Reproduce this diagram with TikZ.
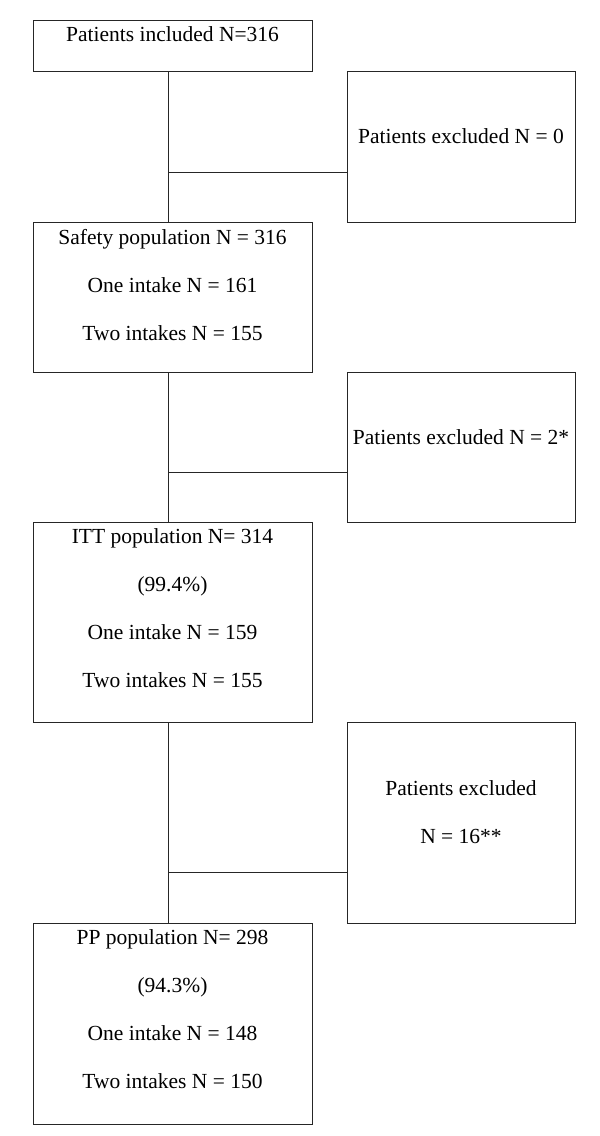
\documentclass[tikz,border=0pt]{standalone}
\usepackage{fontspec}
\setmainfont{Liberation Serif}
\usetikzlibrary{positioning,calc}

\begin{document}
\begin{tikzpicture}[x=1pt, y=1pt,
      font=\fontsize{21.5}{26}\selectfont,   outer sep=0pt,
      pbox/.style={draw=black!85, line width=1pt, minimum width=279pt, inner sep=0pt},
      xbox/.style={draw=black!85, line width=1pt, minimum width=228pt, inner sep=0pt},
       txt/.style={align=center, inner sep=0pt},
      link/.style={line width=1pt, black!85},  ]

    \useasboundingbox (0,0) rectangle (600,-1136);

    % populations
    \node[pbox, minimum height=51pt, anchor=north] (in) at (172.5,-20) {};
    \node[pbox, minimum height=150pt, below=151pt of in     ] (safety) {};
    \node[pbox, minimum height=200pt, below=150pt of safety ] (itt)    {};
    \node[pbox, minimum height=201pt, below=201pt of itt    ] (pp)     {};

    % exclusions
    \node[xbox, minimum height=151pt, below right=0pt and 35pt of in.south east    ] (ex1) {};
    \node[xbox, minimum height=150pt, below right=0pt and 35pt of safety.south east] (ex2) {};
    \node[xbox, minimum height=201pt, below right=0pt and 35pt of itt.south east   ] (ex3) {};

    % texts
    \node[txt, below=7pt of in.north    ] (in-t)     {Patients included N=316};
    \node[txt, below=7pt of safety.north] (safety-t) {Safety population N = 316\\[22pt]
          One intake N = 161\\[22pt] Two intakes N = 155};
    \node[txt, below=7pt of itt.north   ] (itt-t)    {ITT population N= 314\\[22pt] (99.4\%)\\[22pt]
          One intake N = 159\\[22pt] Two intakes N = 155};
    \node[txt, below=7pt of pp.north    ] (pp-t)     {PP population N= 298\\[22pt] (94.3\%)\\[22pt]
          One intake N = 148\\[22pt] Two intakes N = 150};
    \node[txt, yshift=10pt] (ex1-t) at (ex1) {Patients excluded N = 0};
    \node[txt, yshift=10pt] (ex2-t) at (ex2) {Patients excluded N = 2*};
    \node[txt, yshift=10pt] (ex3-t) at (ex3) {Patients excluded\\[22pt] N = 16**};

    % connectors
    \foreach \a/\b/\x/\p in {in/safety/ex1/0.67, safety/itt/ex2/0.67, itt/pp/ex3/0.75} {
      \draw[link] ([xshift=-4pt]\a.south) -- ([xshift=-4pt]\b.north);
      \coordinate (j-\x) at ($([xshift=-4pt]\a.south)!\p!([xshift=-4pt]\b.north)$);
      \draw[link] (j-\x) -- (j-\x -| \x.west);
    }

  \end{tikzpicture}
\end{document}
